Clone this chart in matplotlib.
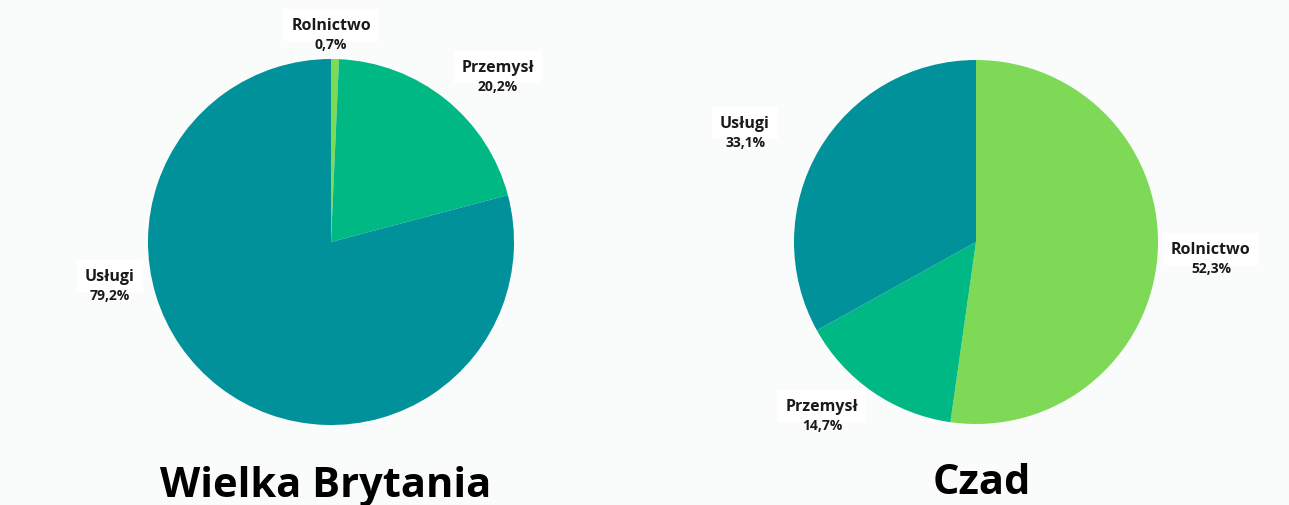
import matplotlib.pyplot as plt

plt.rcParams['font.family'] = ['Open Sans', 'DejaVu Sans']

# data
sectors = ['Rolnictwo', 'Przemysł', 'Usługi']
uk_share = [0.7, 20.2, 79.2]
chad_share = [52.3, 14.7, 33.1]
colors = ['#7ed957', '#00b884', '#00919a']

W, H = 1289, 506
fig = plt.figure(figsize=(W / 100, H / 100), dpi=100)
fig.patch.set_facecolor('#fafbfb')


def px_axes(cx, cy, r):
    # axes covering the pie, given centre and radius in pixels (y from top)
    return fig.add_axes([(cx - r) / W, (H - cy - r) / H, 2 * r / W, 2 * r / H])


def label(x, y, name, value):
    fig.text(x / W, 1 - y / H, name, ha='center', va='center', fontsize=11.5,
             fontweight='bold', color='#1a1a1a',
             bbox=dict(boxstyle='square,pad=0.5', fc='white', ec='none'))
    fig.text(x / W, 1 - (y + 19) / H, value, ha='center', va='center', fontsize=10,
             fontweight='bold', color='#1a1a1a')


def fmt(v):
    return ('%.1f%%' % v).replace('.', ',')


ax1 = px_axes(331, 243, 183)
ax1.pie(uk_share, colors=colors, startangle=90, counterclock=False, radius=1,
        wedgeprops=dict(linewidth=0))
ax1.set_xlim(-1, 1)
ax1.set_ylim(-1, 1)
ax1.axis('off')

ax2 = px_axes(976, 243, 182)
ax2.pie(chad_share, colors=colors, startangle=90, counterclock=False, radius=1,
        wedgeprops=dict(linewidth=0))
ax2.set_xlim(-1, 1)
ax2.set_ylim(-1, 1)
ax2.axis('off')

label(331, 26, sectors[0], fmt(uk_share[0]))
label(498, 68, sectors[1], fmt(uk_share[1]))
label(110, 277, sectors[2], fmt(uk_share[2]))

label(1211, 250, sectors[0], fmt(chad_share[0]))
label(822, 407, sectors[1], fmt(chad_share[1]))
label(745, 124, sectors[2], fmt(chad_share[2]))

fig.text(326 / W, 1 - 497 / H, 'Wielka Brytania', ha='center', va='baseline',
         fontsize=30, fontweight='bold', color='black')
fig.text(982 / W, 1 - 494 / H, 'Czad', ha='center', va='baseline',
         fontsize=30, fontweight='bold', color='black')

fig.savefig('out.png', dpi=100, facecolor=fig.get_facecolor())
